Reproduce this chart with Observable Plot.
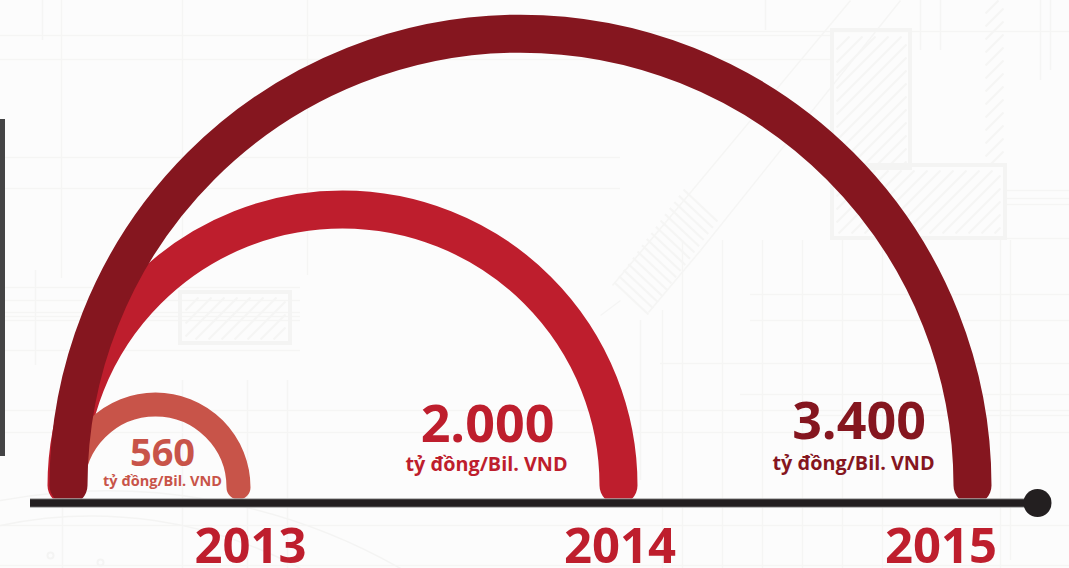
<!DOCTYPE html>
<html><head><meta charset="utf-8">
<script src="https://cdn.jsdelivr.net/npm/d3@7"></script>
<script src="https://cdn.jsdelivr.net/npm/@observablehq/plot@0.6"></script>
<style>
html,body{margin:0;padding:0;background:#fcfcfc;overflow:hidden}
svg{display:block}
</style></head><body><div id="c"></div>
<script>
const years = ["2013","2014","2015"];
const amounts = ["560","2.000","3.400"];
const unit = "tỷ đồng/Bil. VND";
const arcStart = [72,66,68];
const arcEnd = [238,618,972];
const colors = ["#c85449","#be1e2d","#85161f"];
const widths = [24,38,38];
const arcBases = [487,485,485];
const drawOrder = [1,0,2];
const yearX = [250,619.5,940.5];
const yearBase = 562;
const amountX = [162,487,858.5];
const amountY = [465,441,438];
const amountSize = [38,52,52];
const unitX = [162,486,853];
const unitY = [485,470,469];
const unitSize = [14.5,19.8,19.8];
const axisFrom = 30, axisTo = 1037, axisY = 502.5;

// faint blueprint backdrop
const bp = "#f5f5f4";
const hLines = [[0,830,35],[0,830,59],[0,620,157],[0,620,188],[0,300,287],[0,300,300],[0,300,312],[0,300,316],[0,300,320],[0,300,350],[600,1069,31],[750,1069,294],[750,1069,320],[660,1069,363],[740,1069,394],[800,1069,415],[0,1069,410],[0,1069,432],[0,1069,525],[0,1069,565],[1005,1069,190],[1005,1069,198],[1005,1069,204],[1005,1069,238]];
const vLines = [[61,0,278],[182,0,280],[307,0,275],[35,270,365],[62,380,568],[182,380,568],[247,380,568],[287,380,568],[640,320,480],[662,310,568],[682,240,568],[722,240,568],[762,240,568],[802,240,568],[842,238,568],[882,238,568],[1000,238,568],[1040,0,80],[1050,0,70],[765,0,30],[920,0,50],[940,0,50],[1010,240,560],[42,0,40]];
const boxes = [[832,30,910,168],[832,165,1005,238],[180,292,290,343]];
const hatchSegs = [];
for (const [a,b,c,e] of [[836,36,906,165],[836,170,1000,233],[985,0,1003,165],[185,297,285,339]]) {
  for (let k = -(e-b); k < c-a; k += 13) {
    const x1 = Math.max(a, a+k), x2 = Math.min(c, a+k+(e-b));
    hatchSegs.push({x1, x2, y1: e-(x1-(a+k)), y2: e-(x2-(a+k))});
  }
}
const beam = [];
for (let t = 0; t < 16; t++) beam.push({x1:614+t*4.6, y1:280-t*6.2+2, x2:648+t*4.6, y2:312-t*6.2+2});
const beamLines = [[612,285,665,222],[648,312,700,250],[665,222,850,0],[700,250,900,0],[620,300,600,315]];
const rings = [[50,555,17],[100,562,17]];
const curves = [[0,500,400,568],[0,525,300,568]];

const arcs = drawOrder.map(i => ({x1:arcStart[i],x2:arcEnd[i],y:arcBases[i],c:colors[i],w:widths[i]}));
const rows = years.map((y,i)=>({y,i}));
const textStyle = {fontWeight:700,fontFamily:"Open Sans",textAnchor:"middle",lineAnchor:"bottom"};

const plot = Plot.plot({
  width:1069,height:568,margin:0,
  style:{background:"#fcfcfc"},
  x:{domain:[0,1069],range:[0,1069],axis:null},
  y:{domain:[0,568],range:[0,568],axis:null},
  marks:[
    Plot.ruleY(hLines,{x1:d=>d[0],x2:d=>d[1],y:d=>d[2],stroke:bp,strokeWidth:1.5}),
    Plot.ruleX(vLines,{x:d=>d[0],y1:d=>d[1],y2:d=>d[2],stroke:bp,strokeWidth:1.5}),
    Plot.link(hatchSegs,{x1:"x1",x2:"x2",y1:"y1",y2:"y2",stroke:bp,strokeWidth:2}),
    Plot.link(beam,{x1:"x1",x2:"x2",y1:"y1",y2:"y2",stroke:bp,strokeWidth:2}),
    Plot.link(beamLines,{x1:d=>d[0],y1:d=>d[1],x2:d=>d[2],y2:d=>d[3],stroke:bp,strokeWidth:1.5}),
    Plot.rect(boxes,{x1:d=>d[0],y1:d=>d[1],x2:d=>d[2],y2:d=>d[3],fill:"none",stroke:"#f4f4f3",strokeWidth:4}),
    Plot.dot(rings,{x:d=>d[0],y:d=>d[1],r:d=>d[2],fill:"none",stroke:"#f4f4f3",strokeWidth:2}),
    Plot.arrow(curves,{x1:d=>d[0],y1:d=>d[1],x2:d=>d[2],y2:d=>d[3],bend:20,headLength:0,stroke:"#f4f4f3",strokeWidth:1.5}),

    Plot.rect([0],{x1:()=>0,x2:()=>5,y1:()=>119,y2:()=>456,fill:"#444445"}),

    Plot.arrow(arcs,{x1:"x1",x2:"x2",y1:"y",y2:"y",bend:90,headLength:0,stroke:"c",strokeWidth:"w",strokeLinecap:"round"}),

    Plot.ruleY([axisY],{x1:axisFrom,x2:axisTo,stroke:"#a9a8a8",strokeWidth:9.5}),
    Plot.ruleY([axisY],{x1:axisFrom,x2:axisTo,stroke:"#231f20",strokeWidth:7.5}),
    Plot.dot([axisTo],{x:d=>d,y:()=>axisY,r:14,fill:"#231f20"}),

    Plot.text(rows,{x:d=>yearX[d.i],y:()=>yearBase,text:"y",fill:"#be1e2d",fontSize:49,...textStyle}),
    ...[0,1,2].flatMap(i=>[
      Plot.text([amounts[i]],{x:()=>amountX[i],y:()=>amountY[i],text:d=>d,fill:colors[i],fontSize:amountSize[i],...textStyle}),
      Plot.text([unit],{x:()=>unitX[i],y:()=>unitY[i],text:d=>d,fill:colors[i],fontSize:unitSize[i],...textStyle})
    ])
  ]
});
document.getElementById("c").append(plot);
</script></body></html>
